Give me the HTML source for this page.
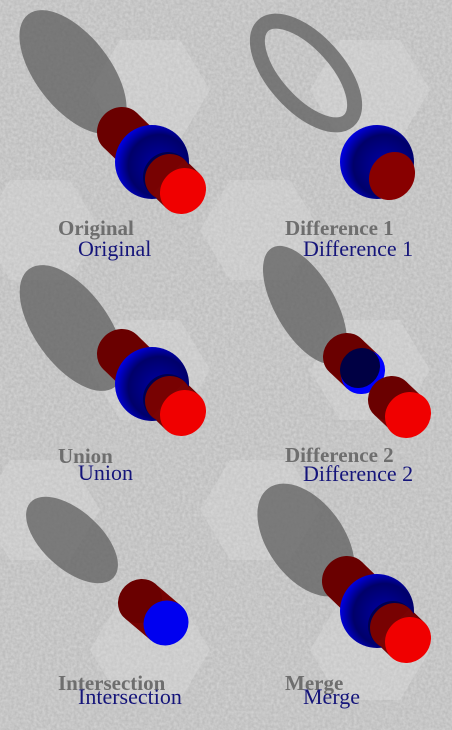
<!DOCTYPE html>
<html><head><meta charset="utf-8"><style>
html,body{margin:0;padding:0;background:#bcbcbc;}
svg{display:block}
.lg{font-family:"Liberation Serif",serif;font-size:21px;font-weight:bold;fill:#6e6e6e;}
.lb{font-family:"Liberation Serif",serif;font-size:22px;fill:#15157a;}
</style></head><body>
<svg width="452" height="730" viewBox="0 0 452 730">
<defs>
<filter id="noise" x="0" y="0" width="100%" height="100%">
<feTurbulence type="fractalNoise" baseFrequency="0.35" numOctaves="2" seed="3"/>
<feColorMatrix type="matrix" values="0 0 0 0 0.75  0 0 0 0 0.75  0 0 0 0 0.75  0.9 0 0 0 -0.2"/>
</filter>
<radialGradient id="sph" cx="0.6" cy="0.55" r="0.6">
<stop offset="0" stop-color="#0000a8"/><stop offset="0.7" stop-color="#00006a"/><stop offset="1" stop-color="#0000e0"/>
</radialGradient>
<g id="full">
<line x1="120" y1="130" x2="183" y2="191" stroke="#700000" stroke-width="48"/>
<ellipse cx="120" cy="130" rx="24" ry="22" transform="rotate(-45 120 130)" fill="#6a0000"/>
<circle cx="152" cy="162" r="37" fill="url(#sph)"/>
<ellipse cx="166" cy="175" rx="24" ry="22" transform="rotate(-45 166 175)" fill="#000050"/>
<ellipse cx="168" cy="177" rx="24" ry="22" transform="rotate(-45 168 177)" fill="#780202"/>
<line x1="168" y1="177" x2="183" y2="191" stroke="#7a0404" stroke-width="46"/>
<ellipse cx="183" cy="191" rx="24" ry="22" transform="rotate(-45 183 191)" fill="#f00000"/>
</g>
</defs>
<rect width="452" height="730" fill="#bdbdbd"/>
<g fill="#cacaca" opacity="0.8">
<polygon points="120,40 180,40 210,90 180,140 120,140 90,90"/>
<polygon points="340,40 400,40 430,90 400,140 340,140 310,90"/>
<polygon points="10,180 70,180 100,230 70,280 10,280 -20,230"/>
<polygon points="230,180 290,180 320,230 290,280 230,280 200,230"/>
<polygon points="120,320 180,320 210,370 180,420 120,420 90,370"/>
<polygon points="340,320 400,320 430,370 400,420 340,420 310,370"/>
<polygon points="10,460 70,460 100,510 70,560 10,560 -20,510"/>
<polygon points="230,460 290,460 320,510 290,560 230,560 200,510"/>
<polygon points="120,600 180,600 210,650 180,700 120,700 90,650"/>
<polygon points="340,600 400,600 430,650 400,700 340,700 310,650"/>
</g>
<rect width="452" height="730" filter="url(#noise)"/>

<g>
<ellipse cx="73" cy="72" rx="73" ry="37" transform="rotate(52 73 72)" fill="#5e5e5e" opacity="0.75"/>
<use href="#full"/>
<text class="lg" x="58" y="235">Original</text>
<text class="lb" x="78" y="256">Original</text>
</g>

<g>
<ellipse cx="306" cy="73" rx="64" ry="31" transform="rotate(48 306 73)" fill="none" stroke="#5e5e5e" stroke-width="15" opacity="0.75"/>
<circle cx="377" cy="162" r="37" fill="url(#sph)"/>
<ellipse cx="392" cy="176" rx="22" ry="25" transform="rotate(35 392 176)" fill="#880000"/>
<text class="lg" x="285" y="235">Difference 1</text>
<text class="lb" x="303" y="256">Difference 1</text>
</g>

<g>
<ellipse cx="72" cy="328" rx="73" ry="37" transform="rotate(54 72 328)" fill="#5e5e5e" opacity="0.75"/>
<g transform="translate(0,222)"><use href="#full"/></g>
<text class="lg" x="58" y="463">Union</text>
<text class="lb" x="78" y="480">Union</text>
</g>

<g>
<ellipse cx="305" cy="305" rx="66" ry="30" transform="rotate(60 305 305)" fill="#5e5e5e" opacity="0.75"/>
<line x1="345" y1="355" x2="363" y2="372" stroke="#700000" stroke-width="46"/>
<ellipse cx="345" cy="355" rx="23" ry="21" transform="rotate(-45 345 355)" fill="#6a0000"/>
<ellipse cx="363" cy="372" rx="23" ry="21" transform="rotate(-45 363 372)" fill="#0000ff"/>
<ellipse cx="360" cy="368" rx="21" ry="19" transform="rotate(-45 360 368)" fill="#000044"/>
<line x1="390" y1="398" x2="408" y2="415" stroke="#760202" stroke-width="46"/>
<ellipse cx="390" cy="398" rx="23" ry="21" transform="rotate(-45 390 398)" fill="#6a0000"/>
<ellipse cx="408" cy="415" rx="24" ry="22" transform="rotate(-45 408 415)" fill="#f00000"/>
<text class="lg" x="285" y="462">Difference 2</text>
<text class="lb" x="303" y="481">Difference 2</text>
</g>

<g>
<ellipse cx="72" cy="540" rx="56" ry="29" transform="rotate(42 72 540)" fill="#5e5e5e" opacity="0.75"/>
<line x1="140" y1="601" x2="166" y2="623" stroke="#760202" stroke-width="46"/>
<ellipse cx="140" cy="601" rx="23" ry="21" transform="rotate(-45 140 601)" fill="#6a0000"/>
<ellipse cx="166" cy="623" rx="23" ry="22" transform="rotate(-45 166 623)" fill="#0000f0"/>
<text class="lg" x="58" y="690">Intersection</text>
<text class="lb" x="78" y="704">Intersection</text>
</g>

<g>
<ellipse cx="306" cy="540" rx="64" ry="38" transform="rotate(54 306 540)" fill="#5e5e5e" opacity="0.75"/>
<g transform="translate(225,449)"><use href="#full"/></g>
<text class="lg" x="285" y="690">Merge</text>
<text class="lb" x="303" y="704">Merge</text>
</g>
</svg>
</body></html>
